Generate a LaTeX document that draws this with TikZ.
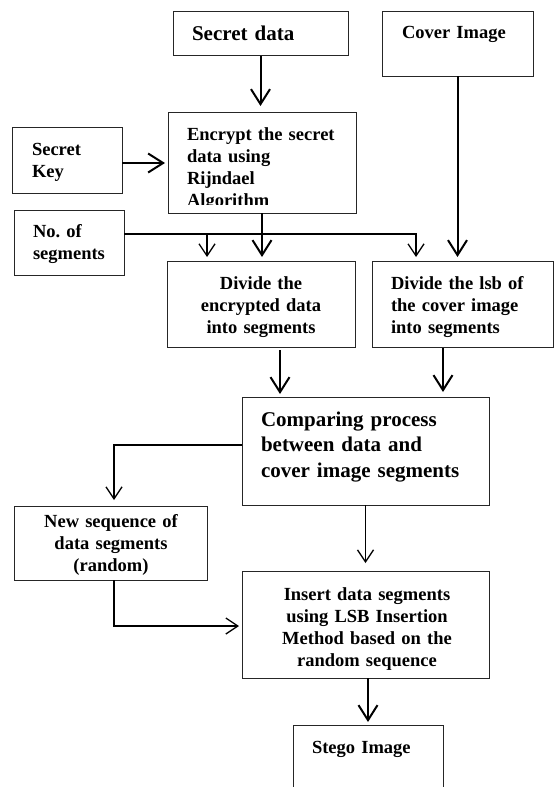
\documentclass[tikz,border=0pt]{standalone}
\usepackage{fontspec}
\setmainfont{Liberation Serif}
\usetikzlibrary{arrows.meta,calc}
\frenchspacing
\begin{document}
\begin{tikzpicture}[x=1pt,y=-1pt,
  box/.style={draw=black!85, line width=1pt, inner sep=0pt, outer sep=0pt, anchor=north west},
  txt/.style={inner sep=0pt, outer sep=0pt, font=\bfseries\fontsize{18.5}{22}\selectfont, text width=175pt, align=left, anchor=base west},
  ctxt/.style={txt, align=center, anchor=base},
  bigtxt/.style={txt, font=\bfseries\fontsize{21}{25.5}\selectfont, text width=230pt},
  thickarr/.style={line width=2pt, -{Straight Barb[length=15pt,width=19pt]}},
  thinarr/.style={line width=1.3pt, -{Straight Barb[length=12pt,width=16pt]}}
]
\useasboundingbox (0,0) rectangle (554,787);
\clip (0,0) rectangle (554,787);
\fill[white] (0,0) rectangle (554,787);

% boxes
\node[box, minimum width=175pt, minimum height=44pt]  (sd)  at (173,11) {};
\node[box, minimum width=151pt, minimum height=65pt]  (ci)  at (382,11) {};
\node[box, minimum width=188pt, minimum height=101pt] (enc) at (168,112) {};
\node[box, minimum width=110pt, minimum height=66pt]  (key) at (12,127) {};
\node[box, minimum width=110pt, minimum height=65pt]  (nos) at (14,210) {};
\node[box, minimum width=188pt, minimum height=86pt]  (de)  at (167,261) {};
\node[box, minimum width=181pt, minimum height=86pt]  (dl)  at (372,261) {};
\node[box, minimum width=247pt, minimum height=108pt] (cmp) at (242,397) {};
\node[box, minimum width=193pt, minimum height=74pt]  (ns)  at (14,506) {};
\node[box, minimum width=247pt, minimum height=107pt] (ins) at (242,571) {};
\node[box, minimum width=150pt, minimum height=90pt]  (st)  at (293,725) {};

% texts
\node[bigtxt] (tsd) at (192,40) {Secret data};
\node[txt] (tci) at (402,38) {Cover Image};
\begin{scope}
  \clip (168,112) rectangle (356,204.5);
  \node[txt] (tenc) at (187,140) {Encrypt the secret\\data using\\Rijndael\\Algorithm};
\end{scope}
\node[txt] (tkey) at (32,155) {Secret\\Key};
\node[txt] (tnos) at (33,237) {No.\ of\\segments};
\node[ctxt] (tde) at (261,289) {Divide the\\encrypted data\\into segments};
\node[txt] (tdl) at (391,289) {Divide the lsb of\\the cover image\\into segments};
\node[bigtxt] (tcmp) at (261,426) {Comparing process\\between data and\\cover image segments};
\node[ctxt] (tns) at (111,527) {New sequence of\\data segments\\(random)};
\node[ctxt] (tins) at (367,600) {Insert data segments\\using LSB Insertion\\Method based on the\\random sequence};
\node[txt] (tst) at (312,753) {Stego Image};

% connectors
\draw[thickarr, shorten <=1pt, shorten >=6pt] (sd.south) -- (sd.south |- enc.north);
\draw[thickarr, shorten >=3pt] ([yshift=-3pt]key.east) -- ([yshift=-3pt]key.east -| enc.west);
\draw[thickarr, shorten >=4pt] (enc.south) -- (enc.south |- de.north);
\coordinate (nl) at ([yshift=8.5pt]nos.east);
\coordinate (deIn) at ([xshift=40pt]de.north west);
\coordinate (dlIn) at ([xshift=44pt]dl.north west);
\draw[thinarr, shorten >=4pt] (nl) -| (dlIn);
\draw[thinarr, shorten >=4pt] (nl -| deIn) -- (deIn);
\draw[thickarr, shorten >=4pt] (ci.south) -- (ci.south |- dl.north);
\draw[thickarr, shorten <=3pt, shorten >=3pt] ([xshift=19pt]de.south) -- ([xshift=19pt]de.south |- cmp.north);
\draw[thickarr, shorten <=1pt, shorten >=5pt] ([xshift=-19.5pt]dl.south) -- ([xshift=-19.5pt]dl.south |- cmp.north);
\draw[thinarr, shorten >=6pt] ([yshift=6pt]cmp.west) -| ([xshift=3.5pt]ns.north);
\draw[thinarr, shorten >=8pt] (cmp.south) -- (cmp.south |- ins.north);
\draw[thinarr, shorten >=3pt] ([xshift=3.5pt]ns.south) |- ([yshift=-1.5pt]ins.west);
\draw[thickarr, shorten >=3pt] (ins.south -| st.north) -- (st.north);
\end{tikzpicture}
\end{document}
